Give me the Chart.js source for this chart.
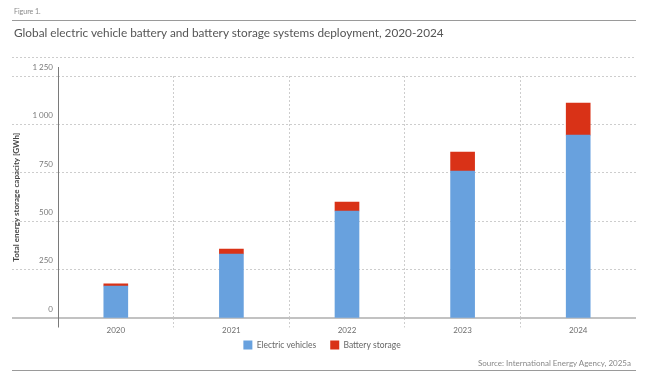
<!DOCTYPE html>
<html>
<head>
<meta charset="utf-8">
<script src="https://cdn.jsdelivr.net/npm/chart.js@4"></script>
<style>
html, body { margin: 0; padding: 0; background: #fff; }
#wrap { position: relative; width: 646px; height: 381px; font-family: Lato, sans-serif; }
#chart { position: absolute; left: 0; top: 0; }
.fig { position: absolute; left: 14px; top: 7px; font-size: 7px; color: #888; }
.rule { position: absolute; left: 12px; width: 624px; height: 0; border-top: 1.5px solid #9a9a9a; }
.title { position: absolute; left: 14px; top: 25px; font-size: 11.8px; color: #555; white-space: nowrap; }
.src { position: absolute; right: 15px; top: 358px; font-size: 8px; color: #888; }
</style>
</head>
<body>
<div id="wrap">
  <canvas id="chart" width="646" height="381"></canvas>
  <div class="fig">Figure 1.</div>
  <div class="rule" style="top:20px"></div>
  <div class="title">Global electric vehicle battery and battery storage systems deployment, 2020-2024</div>
  <div class="src">Source: International Energy Agency, 2025a</div>
  <div class="rule" style="top:370px"></div>
</div>
<script>
// values (GWh)
const years         = ['2020', '2021', '2022', '2023', '2024'];
const evValues      = [167, 332, 554, 760, 945];
const storageValues = [11, 26, 46, 98, 165];
const yTicks        = [0, 250, 500, 750, 1000, 1250];
const yTickLabels   = ['0', '250', '500', '750', '1\u00a0000', '1\u00a0250'];

const GRID = '#cdcdcd';
const BASE = '#c2c2c2';

Chart.defaults.font.family = 'Lato, sans-serif';

const isZero = ctx => ctx.tick && ctx.tick.value === 0;

// top dotted rule and the y axis line, which run past the plot area;
// also pulls the legend up close under the year labels
const frame = {
    id: 'frame',
    afterLayout(chart) {
        const lg = chart.legend;
        const h  = lg.height;
        lg.top    = chart.chartArea.bottom + 8;
        lg.bottom = lg.top + h;
    },
    afterDraw(chart) {
        const {ctx, chartArea} = chart;
        ctx.save();
        ctx.lineWidth   = 1;
        ctx.strokeStyle = GRID;
        ctx.setLineDash([2, 2]);
        ctx.beginPath();
        ctx.moveTo(12, 57.5);
        ctx.lineTo(chartArea.right, 57.5);
        ctx.stroke();

        ctx.setLineDash([]);
        ctx.strokeStyle = '#7a7a7a';
        const x = Math.round(chartArea.left) + 0.5;
        ctx.beginPath();
        ctx.moveTo(x, chartArea.top - 9);
        ctx.lineTo(x, chartArea.bottom + 9);
        ctx.stroke();
        ctx.restore();
    }
};

new Chart(document.getElementById('chart'), {
    type: 'bar',
    data: {
        labels: years,
        datasets: [
            {label: 'Electric vehicles', data: evValues,      backgroundColor: '#68a1de', barThickness: 24},
            {label: 'Battery storage',   data: storageValues, backgroundColor: '#d93217', barThickness: 24}
        ]
    },
    options: {
        responsive: false,
        animation: false,
        layout: {padding: {top: 76, left: 8, right: 10, bottom: 15}},
        plugins: {
            tooltip: {enabled: false},
            legend: {
                position: 'bottom',
                labels: {boxWidth: 9, boxHeight: 9, padding: 14, color: '#666', font: {size: 8.5}}
            }
        },
        scales: {
            x: {
                stacked: true,
                border: {display: false, dash: [2, 2]},
                grid: {
                    offset: true,
                    color: ctx => ctx.type === 'tick' ? GRID : 'rgba(0,0,0,0)',
                    tickColor: ctx => ctx.type === 'tick' ? GRID : 'rgba(0,0,0,0)',
                    tickLength: 9,
                    tickBorderDash: [2, 2]
                },
                ticks: {color: '#6e6e6e', font: {size: 8}, padding: -2, maxRotation: 0}
            },
            y: {
                stacked: true,
                min: 0,
                max: 1250,
                afterFit: s => { s.width = 50; },
                border: {display: false, dash: ctx => isZero(ctx) ? [] : [2, 2]},
                grid: {
                    color: ctx => isZero(ctx) ? BASE : GRID,
                    tickColor: ctx => isZero(ctx) ? BASE : GRID,
                    lineWidth: ctx => isZero(ctx) ? 2 : 1,
                    tickWidth: ctx => isZero(ctx) ? 2 : 1,
                    tickLength: 46,
                    tickBorderDash: ctx => isZero(ctx) ? [] : [2, 2]
                },
                ticks: {
                    stepSize: 250,
                    color: '#7a7a7a',
                    font: {size: 8},
                    padding: -41,
                    labelOffset: -9,
                    callback: v => yTickLabels[yTicks.indexOf(v)]
                },
                title: {
                    display: true,
                    text: 'Total energy storage capacity [GWh]',
                    color: '#444',
                    font: {size: 8, weight: 'bold'},
                    padding: {top: 4, bottom: 0}
                }
            }
        }
    },
    plugins: [frame]
});
</script>
</body>
</html>
